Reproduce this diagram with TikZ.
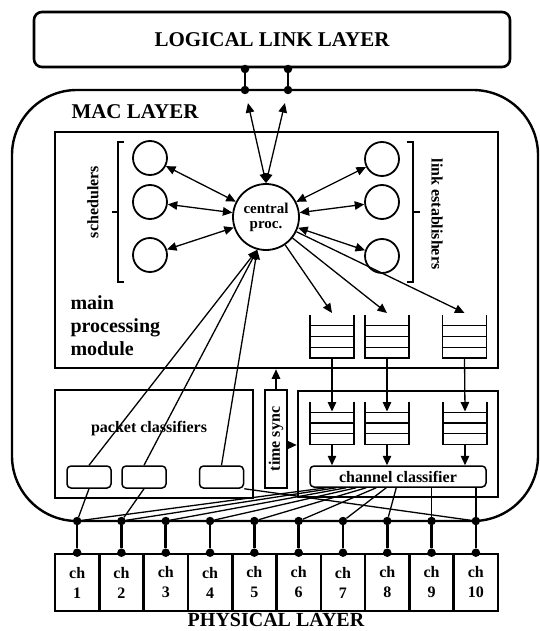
\documentclass[tikz,border=0pt]{standalone}
\usepackage{fontspec}
\setmainfont{Liberation Serif}
\usetikzlibrary{arrows.meta,calc}
\newcommand\myqueue[3]{%
  \node[minimum width=44pt,minimum height=43pt,inner sep=0pt,outer sep=0pt] (#1) at (#2,#3) {};
  \draw[qline] (#1.north west) -- (#1.south west) -- (#1.south east) -- (#1.north east);
  \foreach \f in {0.25,0.5,0.75}
    \draw[qline] ($(#1.south west)!\f!(#1.north west)$) -- ($(#1.south east)!\f!(#1.north east)$);
}
\begin{document}
\begin{tikzpicture}[x=1pt,y=-1pt,
  thickline/.style={line width=2.6pt},
  qline/.style={line width=1.4pt},
  arr/.style={-{Triangle[length=9.5pt,width=8.5pt]},line width=1.3pt},
  darr/.style={{Triangle[length=9.5pt,width=8.5pt]}-{Triangle[length=9.5pt,width=8.5pt]},line width=1.3pt},
  conn/.style={line width=1.3pt},
  dot/.style={circle,fill,inner sep=0pt,minimum size=8.5pt},
  bigbox/.style={draw,line width=2.6pt,inner sep=0pt},
  smallbox/.style={draw,line width=1.5pt,rounded corners=4pt,minimum width=44pt,minimum height=22pt,inner sep=0pt},
  unit/.style={draw,circle,line width=1.8pt,minimum size=34pt,inner sep=0pt},
  chbox/.style={draw,line width=2.6pt,minimum width=44.3pt,minimum height=57pt,inner sep=0pt,align=center,font=\fontsize{16}{20}\selectfont\bfseries},
  big/.style={font=\fontsize{21}{24}\selectfont\bfseries},
  mid/.style={font=\fontsize{16}{18}\selectfont\bfseries},
  bracket/.style={line width=1.3pt}
]
\useasboundingbox (0,0) rectangle (540,631);

% layers
\node[draw,line width=2.6pt,rounded corners=8pt,minimum width=476pt,minimum height=55pt,inner sep=0pt,big] (lll) at (272,39.5) {LOGICAL LINK LAYER};
\node[draw,line width=2.4pt,rounded corners=65pt,minimum width=526pt,minimum height=431pt,inner sep=0pt] (mac) at (275,305.5) {};
\node[big] (maclbl) at (135,112) {MAC LAYER};

% LLL connection dots
\node[dot] (u1) at (245,69) {};
\node[dot] (u2) at (288,69) {};
\node[dot] (l1) at (245,90) {};
\node[dot] (l2) at (288,90) {};
\draw[thickline] (u1) -- (l1);
\draw[thickline] (u2) -- (l2);

% main processing module
\node[bigbox,minimum width=443pt,minimum height=236pt] (main) at (276.5,250) {};
\node[anchor=west,align=left,font=\fontsize{20}{23}\selectfont\bfseries] (mpm) at (67,326) {main\\processing\\module};

\node[draw,circle,line width=1.8pt,minimum size=66pt,inner sep=0pt,align=center,font=\fontsize{15}{15}\selectfont\bfseries] (cp) at (266,217) {central\\proc.};

\node[unit] (s1) at (150,158) {};
\node[unit] (s2) at (150,202) {};
\node[unit] (s3) at (150,255) {};
\node[unit] (e1) at (382,159) {};
\node[unit] (e2) at (382,202) {};
\node[unit] (e3) at (382,256) {};

\draw[bracket] (124,142) -- (118,142) -- (118,282) -- (124,282);
\draw[bracket] (118,212) -- (112,212);
\draw[bracket] (407,142) -- (413,142) -- (413,282) -- (407,282);
\draw[bracket] (413,212) -- (420,212);
\node[mid,rotate=90] (schl) at (93,202) {schedulers};
\node[mid,rotate=-90] (lel) at (437,214) {link establishers};

\foreach \n in {s1,s2,s3,e1,e2,e3} \draw[darr] (\n) -- (cp);
\draw[darr,shorten >=9pt] (cp.north) -- (l1);
\draw[darr,shorten >=9pt] (cp.north) -- (l2);

\myqueue{mq1}{332}{336.5}
\myqueue{mq2}{387}{336.5}
\myqueue{mq3}{464.5}{336.5}
\foreach \q in {mq1,mq2,mq3} \draw[arr] (cp) -- ([yshift=2pt]\q.north);

% packet classifiers
\node[bigbox,minimum width=198pt,minimum height=108pt] (pbox) at (154,444) {};
\node[mid] (pcl) at (149,429) {packet classifiers};
\node[smallbox] (b1) at (89,477) {};
\node[smallbox] (b2) at (144,477) {};
\node[smallbox] (b3) at (221.5,477) {};

% time sync
\node[bigbox,minimum width=22pt,minimum height=98pt] (ts) at (276,439) {\rotatebox{90}{\fontsize{16}{18}\selectfont\bfseries time sync}};

% channel side
\node[bigbox,minimum width=200pt,minimum height=106pt] (cbox) at (398,444) {};
\myqueue{lq1}{332}{423}
\myqueue{lq2}{387}{423}
\myqueue{lq3}{465}{423}
\node[draw,line width=1.5pt,rounded corners=4pt,minimum width=176pt,minimum height=21pt,inner sep=0pt,mid] (cc) at (398,476.5) {channel classifier};

\draw[arr] (mq1.south) -- ([yshift=-10pt]lq1.north);
\draw[arr] (mq2.south) -- ([yshift=-10pt]lq2.north);
\draw[arr] (mq3.south) -- ([yshift=-10pt]lq3.north);
\draw[arr] (lq1.south) -- (lq1.south |- cc.north);
\draw[arr] (lq2.south) -- (lq2.south |- cc.north);
\draw[arr] (lq3.south) -- (lq3.south |- cc.north);

\draw[arr] (ts.north) -- (ts.north |- main.south);
\draw[arr] ([yshift=-6pt]ts.east) -- ([yshift=-6pt]ts.east -| cbox.west);

% physical layer
\foreach \k in {1,...,10} {
  \pgfmathsetmacro\cx{55+44.3*(\k-0.5)}
  \node[chbox] (c\k) at (\cx,582.5) {ch\\\k};
  \node[dot] (t\k) at (c\k.north) {};
  \node[dot] (d\k) at (\cx,521) {};
  \draw[thickline] (d\k) -- (t\k);
}
\draw[line width=2.4pt] (d1) -- (d10);
\node[font=\fontsize{20}{22}\selectfont\bfseries,inner sep=1pt] (phy) at (276,620) {PHYSICAL LAYER};

% classifier connections
\draw[arr] (b1.north) -- (cp.255);
\draw[arr] (b2.north) -- (cp.255);
\draw[arr] (b3.north) -- (cp.255);
\draw[conn] (b1.south) -- (d1);
\draw[conn] (b2.south) -- (d2);
\draw[conn] (b3.south east) -- (d10);
\foreach \k in {1,...,8}
  \draw[conn] ($(cc.south west)+({17+10*(\k-1)},0)$) -- (d\k);
\draw[conn] (d9 |- cc.south) -- (d9);
\draw[conn] (d10 |- cc.south) -- (d10);
\end{tikzpicture}
\end{document}
